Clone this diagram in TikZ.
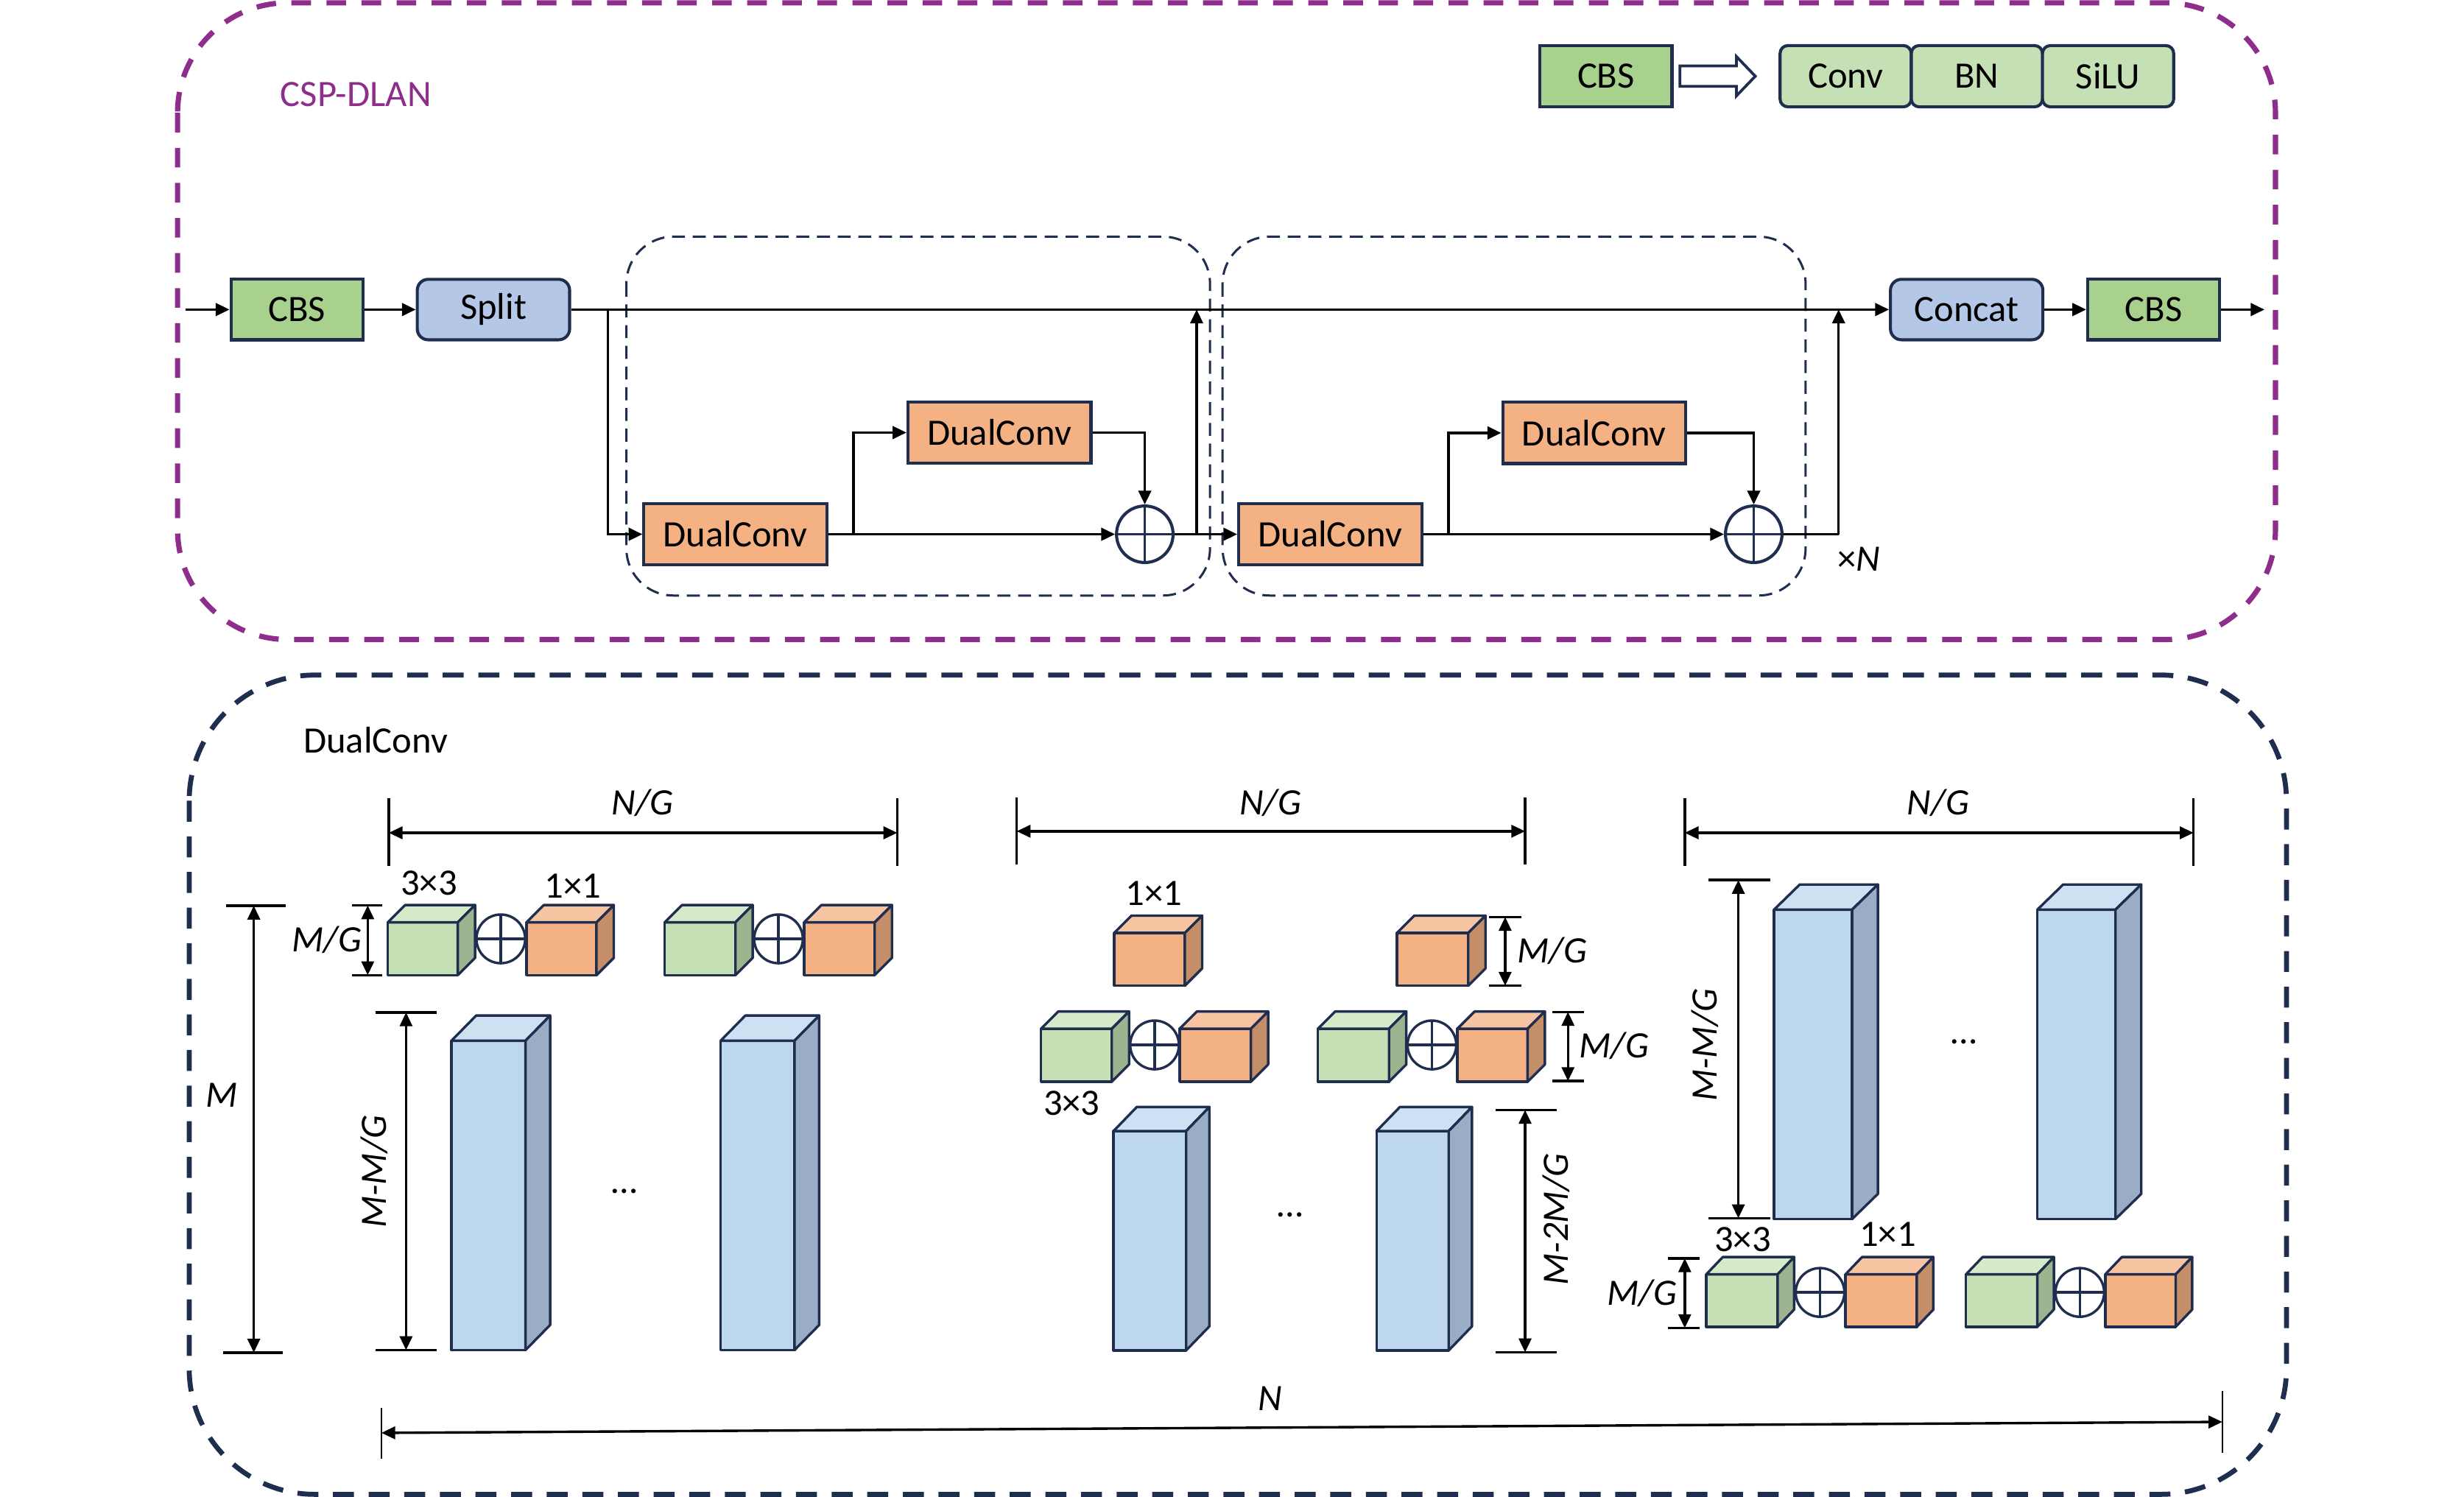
\documentclass[tikz,border=0pt]{standalone}
\usepackage{fontspec}
\setmainfont{Carlito}
\usetikzlibrary{arrows.meta}
\definecolor{navy}{RGB}{31,45,78}
\definecolor{purp}{RGB}{143,45,140}
\definecolor{cbsg}{RGB}{169,209,142}
\definecolor{lgreen}{RGB}{197,224,180}
\definecolor{lblue}{RGB}{180,199,231}
\definecolor{orng}{RGB}{244,177,131}
\definecolor{greenfront}{RGB}{197,224,180}
\definecolor{greentop}{RGB}{214,234,201}
\definecolor{greenside}{RGB}{158,180,144}
\definecolor{orangefront}{RGB}{244,177,131}
\definecolor{orangetop}{RGB}{246,196,160}
\definecolor{orangeside}{RGB}{196,142,105}
\definecolor{bluefront}{RGB}{189,215,238}
\definecolor{bluetop}{RGB}{205,225,243}
\definecolor{blueside}{RGB}{153,174,196}
\newcommand{\cuboid}[7]{%
  \filldraw[cubeedge,fill=#7front] (#1,#2) rectangle (#3,#4);
  \filldraw[cubeedge,fill=#7top] (#1,#2) -- ++(#5,-#6) -- ++(#3-#1,0) -- (#3,#2) -- cycle;
  \filldraw[cubeedge,fill=#7side] (#3,#2) -- ++(#5,-#6) -- ++(0,#4-#2) -- (#3,#4) -- cycle;
}
\newcommand{\opl}[2]{%
  \filldraw[plusline,fill=white] (#1,#2) circle (15.5);
  \draw[plusline] (#1-15.5,#2) -- (#1+15.5,#2) (#1,#2-15.5) -- (#1,#2+15.5);
}
\tikzset{
  lbl/.style={font=\fontsize{13.5}{16}\selectfont, inner sep=0pt},
  mlbl/.style={font=\fontsize{13.5}{16}\selectfont\itshape, inner sep=0pt},
  boxbase/.style={draw=navy, line width=1.1pt, inner sep=0pt, minimum height=0.77cm, font=\fontsize{13.5}{16}\selectfont},
  cbsbox/.style={boxbase, fill=cbsg, minimum width=1.68cm},
  sbox/.style={boxbase, fill=lblue, minimum width=1.94cm, rounded corners=0.14cm},
  dcbox/.style={boxbase, fill=orng, minimum width=2.33cm, minimum height=0.78cm},
  lgbox/.style={boxbase, fill=lgreen, minimum width=1.67cm, minimum height=0.78cm, rounded corners=0.1cm},
  oplus/.style={circle, draw=navy, line width=1.1pt, minimum size=0.72cm, inner sep=0pt, fill=white},
  arr/.style={-{Triangle[length=5pt,width=4.6pt]}, line width=0.9pt},
  dimarr/.style={{Triangle[length=5pt,width=4.5pt]}-{Triangle[length=5pt,width=4.5pt]}, line width=0.9pt},
  tickl/.style={line width=0.9pt},
  cubeedge/.style={draw=navy, line width=0.9pt, line join=round},
  plusline/.style={draw=navy, line width=0.9pt},
  blockdash/.style={draw=navy, line width=0.8pt, dash pattern=on 4.7pt off 2.8pt, rounded corners=0.6cm},
  purpdash/.style={draw=purp, line width=1.9pt, dash pattern=on 7.1pt off 5.6pt, rounded corners=1.4cm},
  navydash/.style={draw=navy, line width=1.8pt, dash pattern=on 7.6pt off 5.3pt, rounded corners=1.6cm},
}
\begin{document}
\begin{tikzpicture}[x=0.02cm, y=-0.02cm]
\useasboundingbox (0,0) rectangle (1568,952.7);
\fill[white] (0,0) rectangle (1568,952.7);

% ===== upper frame =====
\draw[purpdash] (113,1.8) rectangle (1448,407);
\node[lbl, text=purp] (tcsp) at (226.5,60) {CSP-DLAN};

% legend
\node[cbsbox] (lcbs) at (1022,48.5) {CBS};
\filldraw[draw=navy, line width=1pt, fill=white, line join=miter]
  (1069,42) -- (1105,42) -- (1105,36) -- (1117,48.5) -- (1105,61) -- (1105,55) -- (1069,55) -- cycle;
\node[lgbox] (lconv) at (1174.5,48.5) {Conv};
\node[lgbox] (lbn) at (1258,48.5) {BN};
\node[lgbox] (lsilu) at (1341.5,48.5) {SiLU};

% dashed blocks
\draw[blockdash] (398.6,150.6) rectangle (770,379);
\draw[blockdash] (778,150.6) rectangle (1149,379);

% nodes
\node[cbsbox] (cbs1) at (189,197) {CBS};
\node[sbox] (split) at (314,197) {Split};
\node[dcbox] (dc1) at (468,340) {DualConv};
\node[dcbox] (dc2) at (636,275.3) {DualConv};
\node[oplus] (c1) at (728.5,340) {};
\node[dcbox] (dc3) at (846.5,340) {DualConv};
\node[dcbox] (dc4) at (1014.5,275.5) {DualConv};
\node[oplus] (c2) at (1116,340) {};
\node[sbox] (concat) at (1251.5,197) {Concat};
\node[cbsbox] (cbs2) at (1370.5,197) {CBS};
\draw[plusline, line width=1pt] (c1.north) -- (c1.south) (c1.west) -- (c1.east);
\draw[plusline, line width=1pt] (c2.north) -- (c2.south) (c2.west) -- (c2.east);
\coordinate (in) at (118,197);
\coordinate (out) at (1441,197);
\coordinate (j1) at (761.5,340);
\coordinate (j1t) at (761.5,197);
\coordinate (j2) at (1170,340);
\coordinate (j2t) at (1170,197);
\node[lbl] (xn) at (1183,356) {×\textit{N}};

% connectors
\draw[arr] (in) -- (cbs1);
\draw[arr] (cbs1) -- (split);
\draw[arr] (split.east) -- (concat.west);
\draw[arr] (split.east) -- ++(23.5,0) |- (dc1.west);
\draw[arr] (dc1.east) -- ++(16,0) |- (dc2.west);
\draw[arr] (dc1.east) -- (c1.west);
\draw[arr] (dc2.east) -| (c1.north);
\draw[arr] (c1.east) -- (dc3.west);
\draw[arr] (j1) -- (j1t);
\draw[arr] (dc3.east) -- ++(16,0) |- (dc4.west);
\draw[arr] (dc3.east) -- (c2.west);
\draw[arr] (dc4.east) -| (c2.north);
\draw[line width=0.9pt] (c2.east) -- (j2);
\draw[arr] (j2) -- (j2t);
\draw[arr] (concat) -- (cbs2);
\draw[arr] (cbs2) -- (out);

% ===== lower frame =====
\draw[navydash] (120.4,429.6) rectangle (1455,951);
\node[lbl] (tdc) at (239,471) {DualConv};

% ---- panel 1 ----
\draw[tickl] (247.4,508) -- (247.4,551);
\draw[tickl] (571,508) -- (571,551);
\draw[dimarr] (247.4,530) -- (571,530);
\node[mlbl] (ng1) at (409,511) {N/G};
\cuboid{246.8}{587}{291.3}{620.6}{11}{11}{green}
\cuboid{335}{587}{379.6}{620.6}{11}{11}{orange}
\cuboid{423}{587}{468}{620.6}{11}{11}{green}
\cuboid{511.7}{587}{556.6}{620.6}{11}{11}{orange}
\opl{318.7}{597.5}
\opl{495.4}{597.5}
\node[lbl] (k1a) at (273,562) {3×3};
\node[lbl] (k1b) at (364.6,564) {1×1};
\draw[tickl] (224,576.2) -- (243.2,576.2);
\draw[tickl] (224,620.6) -- (243.2,620.6);
\draw[dimarr] (234,576.2) -- (234,620.6);
\node[mlbl] (mg1) at (208,598) {M/G};
\draw[tickl] (144,576.4) -- (182,576.4);
\draw[tickl] (142,860.8) -- (180,860.8);
\draw[dimarr] (161.5,576.4) -- (161.5,860.8);
\node[mlbl] (m1) at (141,697) {M};
\draw[tickl] (239,644.3) -- (278,644.3);
\draw[tickl] (239,859.2) -- (278,859.2);
\draw[dimarr] (258.4,644.3) -- (258.4,859.2);
\node[mlbl, rotate=90] (mm1) at (238.3,745.6) {M-M/G};
\cuboid{287.3}{662.3}{334.4}{859.2}{15.7}{16}{blue}
\cuboid{458.6}{662.3}{505.6}{859.2}{15.7}{16}{blue}
\node[lbl] (d1) at (397.4,758) {…};

% ---- panel 2 ----
\draw[tickl] (647,507.5) -- (647,550);
\draw[tickl] (970.5,507.5) -- (970.5,550);
\draw[dimarr] (647,529) -- (970.5,529);
\node[mlbl] (ng2) at (808.4,511) {N/G};
\cuboid{709}{593.7}{754}{627.3}{11}{11}{orange}
\cuboid{889}{593.7}{934.3}{627.3}{11}{11}{orange}
\node[lbl] (k2b) at (734.2,568.7) {1×1};
\draw[tickl] (947.7,583.6) -- (968,583.6);
\draw[tickl] (947.7,627.3) -- (968,627.3);
\draw[dimarr] (957.8,583.6) -- (957.8,627.3);
\node[mlbl] (mg2a) at (987.7,605) {M/G};
\cuboid{662.5}{654.7}{707.5}{688.4}{11}{11}{green}
\cuboid{750.7}{654.7}{796}{688.4}{11}{11}{orange}
\cuboid{838.7}{654.7}{883.9}{688.4}{11}{11}{green}
\cuboid{927.4}{654.7}{972.1}{688.4}{11}{11}{orange}
\opl{734.7}{665}
\opl{911.2}{665}
\draw[tickl] (988,644) -- (1008,644);
\draw[tickl] (988,688) -- (1008,688);
\draw[dimarr] (997.8,644) -- (997.8,688);
\node[mlbl] (mg2b) at (1027,665.4) {M/G};
\node[lbl] (k2a) at (682,702) {3×3};
\cuboid{708.6}{719.8}{754.8}{859.4}{14.8}{15.3}{blue}
\cuboid{876}{719.8}{921.9}{859.4}{14.8}{15.3}{blue}
\node[lbl] (d2) at (820.8,773) {…};
\draw[tickl] (951.8,706.4) -- (990.5,706.4);
\draw[tickl] (951.8,860.6) -- (990.5,860.6);
\draw[dimarr] (970.5,706.4) -- (970.5,860.6);
\node[mlbl, rotate=90] (mm2) at (990.5,776) {M-2M/G};

% ---- panel 3 ----
\draw[tickl] (1072.1,508) -- (1072.1,551);
\draw[tickl] (1395.9,508) -- (1395.9,551);
\draw[dimarr] (1072.1,530) -- (1395.9,530);
\node[mlbl] (ng3) at (1233.4,511) {N/G};
\cuboid{1128.9}{578.9}{1178.6}{775.8}{16.4}{16}{blue}
\cuboid{1296.5}{578.9}{1346.2}{775.8}{16.4}{16}{blue}
\node[lbl] (d3) at (1249.6,663) {…};
\draw[tickl] (1087.2,560) -- (1126.5,560);
\draw[tickl] (1087.2,775.3) -- (1126.5,775.3);
\draw[dimarr] (1106.2,560) -- (1106.2,775.3);
\node[mlbl, rotate=90] (mm3) at (1085,665) {M-M/G};
\cuboid{1085.8}{811}{1131.2}{844.4}{10.5}{11}{green}
\cuboid{1174.4}{811}{1219.8}{844.4}{10.5}{11}{orange}
\cuboid{1251.1}{811}{1296.5}{844.4}{10.5}{11}{green}
\cuboid{1339.7}{811}{1384.5}{844.4}{10.5}{11}{orange}
\opl{1158.2}{822.5}
\opl{1323.5}{822.5}
\node[lbl] (k3a) at (1109,788.7) {3×3};
\node[lbl] (k3b) at (1201.3,785.5) {1×1};
\draw[tickl] (1061.6,800.8) -- (1081.5,800.8);
\draw[tickl] (1061.6,845.2) -- (1081.5,845.2);
\draw[dimarr] (1072.1,800.8) -- (1072.1,845.2);
\node[mlbl] (mg3) at (1045,823) {M/G};

% ---- overall N ----
\draw[line width=0.6pt] (242.7,895.8) -- (242.7,928.3);
\draw[line width=0.6pt] (1414.2,885.4) -- (1414.2,924.4);
\draw[dimarr] (242.7,911.9) -- (1414.2,904.9);
\node[mlbl] (nn) at (808.4,890) {N};
\end{tikzpicture}
\end{document}
